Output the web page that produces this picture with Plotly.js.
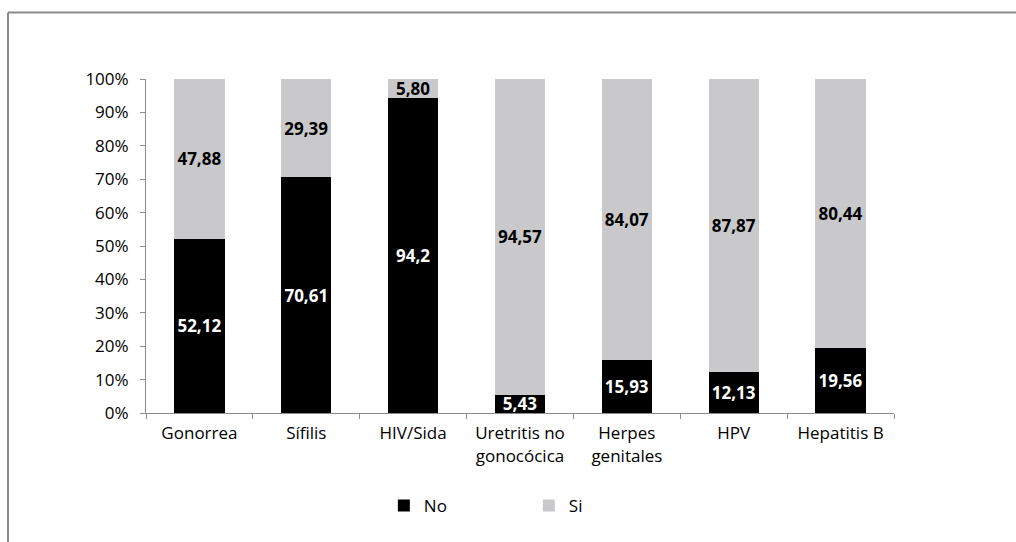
<!DOCTYPE html>
<html>
<head>
<meta charset="utf-8">
<script src="https://cdn.plot.ly/plotly-3.0.1.min.js"></script>
<style>
  html, body { margin: 0; padding: 0; background: #ffffff; overflow: hidden; }
  #chart { width: 1016px; height: 542px; }
</style>
</head>
<body>
<div id="chart"></div>
<script>
const categories = ["Gonorrea", "Sífilis", "HIV/Sida", "Uretritis no<br>gonocócica", "Herpes<br>genitales", "HPV", "Hepatitis B"];
const noValues = [52.12, 70.61, 94.2, 5.43, 15.93, 12.13, 19.56];
const siValues = [47.88, 29.39, 5.80, 94.57, 84.07, 87.87, 80.44];
const noLabels = ["52,12", "70,61", "94,2", "5,43", "15,93", "12,13", "19,56"];
const siLabels = ["47,88", "29,39", "5,80", "94,57", "84,07", "87,87", "80,44"];
const yTickVals = [0, 10, 20, 30, 40, 50, 60, 70, 80, 90, 100];
const yTickText = ["0%", "10%", "20%", "30%", "40%", "50%", "60%", "70%", "80%", "90%", "100%"];

const FONT = "'Open Sans', 'Noto Sans', sans-serif";

const traces = [
  {
    type: "bar", name: "No", x: categories, y: noValues,
    text: noLabels, textposition: "inside", insidetextanchor: "middle",
    constraintext: "none", cliponaxis: false,
    textfont: { family: FONT, size: 17, color: "#ffffff", weight: "bold" },
    marker: { color: "#000000" }, hoverinfo: "skip"
  },
  {
    type: "bar", name: "Si", x: categories, y: siValues,
    text: siLabels, textposition: "inside", insidetextanchor: "middle",
    constraintext: "none", cliponaxis: false,
    textfont: { family: FONT, size: 17, color: "#000000", weight: "bold" },
    marker: { color: "#c9c9cb" }, hoverinfo: "skip"
  }
];

// frame (left and top edges only), in paper units relative to plot area
const fx = (8 - 146) / 748, fyTop = (413 - 12.5) / 334, fyBot = (413 - 560) / 334, fxR = (1040 - 146) / 748;

const layout = {
  width: 1016, height: 542,
  margin: { l: 146, r: 122, t: 79, b: 129 },
  paper_bgcolor: "#ffffff", plot_bgcolor: "rgba(0,0,0,0)",
  barmode: "stack", bargap: 0.53,
  font: { family: FONT, size: 17, color: "#000000" },
  showlegend: true,
  legend: {
    orientation: "h", x: 0.318, xanchor: "left", y: -0.278, yanchor: "middle",
    font: { family: FONT, size: 17, color: "#000000" },
    entrywidth: 100, entrywidthmode: "pixels", traceorder: "normal"
  },
  shapes: [
    { type: "line", xref: "paper", yref: "paper", x0: fx, x1: fx, y0: fyBot, y1: fyTop,
      line: { color: "#8a8a8a", width: 2 }, layer: "below" },
    { type: "line", xref: "paper", yref: "paper", x0: fx, x1: fxR, y0: fyTop, y1: fyTop,
      line: { color: "#8a8a8a", width: 2 }, layer: "below" }
  ],
  xaxis: {
    showline: true, linecolor: "#8c8c8c", linewidth: 1,
    ticks: "outside", tickson: "boundaries", ticklen: 5, tickcolor: "#8c8c8c",
    showgrid: false, zeroline: false, fixedrange: true,
    ticklabelstandoff: 5,
    tickfont: { family: FONT, size: 17, color: "#000000" }
  },
  yaxis: {
    range: [0, 100], tickvals: yTickVals, ticktext: yTickText,
    showline: true, linecolor: "#8c8c8c", linewidth: 1,
    ticks: "outside", ticklen: 5, tickcolor: "#8c8c8c",
    showgrid: false, zeroline: false, fixedrange: true,
    ticklabelstandoff: 8,
    tickfont: { family: FONT, size: 17, color: "#000000" }
  }
};

Plotly.newPlot("chart", traces, layout, { displayModeBar: false, staticPlot: true });
</script>
</body>
</html>
